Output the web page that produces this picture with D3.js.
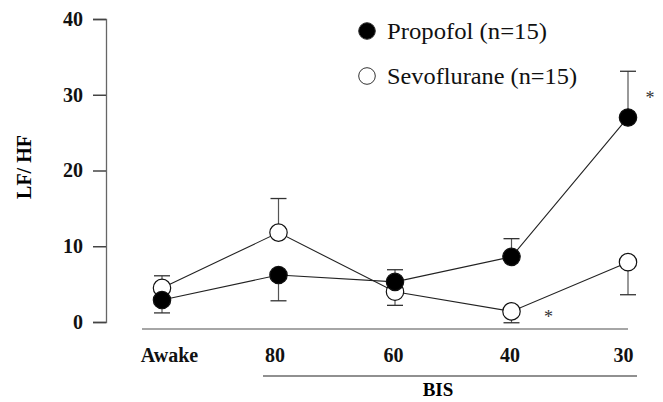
<!DOCTYPE html>
<html>
<head>
<meta charset="utf-8">
<script src="https://cdn.jsdelivr.net/npm/d3@7"></script>
<style>
  body { margin: 0; background: #fff; }
  text { font-family: "Liberation Serif", "Times New Roman", serif; }
</style>
</head>
<body>
<script>
// data
const stages = ["Awake", "80", "60", "40", "30"];
const propofol = [2.9, 6.2, 5.3, 8.6, 27.0];
const propofolErr = [1.7, 3.4, 1.6, 2.4, 6.1];   // drawn one-sided
const propofolDir = [-1, -1, 1, 1, 1];           // -1 = down, 1 = up
const sevo = [4.5, 11.8, 4.0, 1.4, 7.9];
const sevoErr = [1.6, 4.5, 1.8, 1.5, 4.3];
const sevoDir = [1, 1, -1, -1, -1];
const yTicks = [0, 10, 20, 30, 40];
const stars = [{stage: "30", value: 29.8, dx: 22}, {stage: "40", value: 0.9, dx: 37}];

const w = 663, h = 402;
const svg = d3.select("body").append("svg")
  .attr("width", w).attr("height", h);

const x = d3.scalePoint().domain(stages).range([162, 628]);
const y = d3.scaleLinear().domain([0, 40]).range([322, 19]);

// y axis
const yAxis = d3.axisLeft(y).tickValues(yTicks).tickSize(13).tickPadding(10);
const gy = svg.append("g").attr("transform", "translate(106,0)").call(yAxis);
gy.select(".domain").attr("stroke", "#666").attr("stroke-width", 1.3);
gy.selectAll(".tick line").attr("stroke", "#444").attr("stroke-width", 1.5);
gy.selectAll(".tick text").attr("font-family", "Liberation Serif")
  .attr("font-size", 20).attr("font-weight", "bold").attr("fill", "#111");

svg.append("text")
  .attr("transform", "translate(31,167) rotate(-90)")
  .attr("text-anchor", "middle")
  .attr("font-size", 20).attr("font-weight", "bold")
  .text("LF/ HF");

// x axis
const xAxis = d3.axisBottom(x).tickSize(0).tickPadding(19);
const gx = svg.append("g").attr("transform", "translate(0,329)").call(xAxis);
gx.select(".domain").attr("d", "M142,0H628").attr("stroke", "#888").attr("stroke-width", 1.3);
const shift = {"Awake": 7, "80": -4, "60": -2, "40": -2, "30": -5};
gx.selectAll(".tick text").attr("font-family", "Liberation Serif")
  .attr("font-size", 20).attr("font-weight", "bold").attr("fill", "#111")
  .attr("dx", d => shift[d]);

svg.append("line")
  .attr("x1", 263).attr("x2", 637).attr("y1", 376).attr("y2", 376)
  .attr("stroke", "#222").attr("stroke-width", 1.2);
svg.append("text")
  .attr("x", 438).attr("y", 396)
  .attr("text-anchor", "middle")
  .attr("font-size", 19).attr("font-weight", "bold")
  .text("BIS");

const line = d3.line().x((d, i) => x(stages[i])).y(d => y(d));

function drawSeries(vals, errs, dirs, fill) {
  const g = svg.append("g");
  // error bars
  vals.forEach((v, i) => {
    const cx = x(stages[i]);
    const end = y(v + dirs[i] * errs[i]);
    g.append("line").attr("x1", cx).attr("x2", cx)
      .attr("y1", y(v)).attr("y2", end)
      .attr("stroke", "#555").attr("stroke-width", 1.2);
    g.append("line").attr("x1", cx - 8).attr("x2", cx + 8)
      .attr("y1", end).attr("y2", end)
      .attr("stroke", "#333").attr("stroke-width", 1.3);
  });
  g.append("path").datum(vals)
    .attr("d", line).attr("fill", "none")
    .attr("stroke", "#222").attr("stroke-width", 1.1);
  g.selectAll("circle").data(vals).enter().append("circle")
    .attr("cx", (d, i) => x(stages[i]))
    .attr("cy", d => y(d))
    .attr("r", 8.7)
    .attr("fill", fill)
    .attr("stroke", "#111").attr("stroke-width", 1.2);
}

drawSeries(sevo, sevoErr, sevoDir, "#fff");
drawSeries(propofol, propofolErr, propofolDir, "#000");

// significance marks
svg.selectAll(".star").data(stars).enter().append("text")
  .attr("x", d => x(d.stage) + d.dx)
  .attr("y", d => y(d.value) + 8)
  .attr("text-anchor", "middle")
  .attr("font-size", 18).attr("fill", "#333")
  .text("*");

// legend
const legend = [{label: "Propofol (n=15)", fill: "#000", y: 31, len: 160},
                {label: "Sevoflurane (n=15)", fill: "#fff", y: 76, len: 190}];
const lg = svg.selectAll(".lg").data(legend).enter().append("g");
lg.append("circle").attr("cx", 367).attr("cy", d => d.y).attr("r", 8.3)
  .attr("fill", d => d.fill).attr("stroke", "#333").attr("stroke-width", 1);
lg.append("text").attr("x", 387).attr("y", d => d.y + 8)
  .attr("font-size", 23).attr("fill", "#111")
  .attr("textLength", d => d.len).attr("lengthAdjust", "spacingAndGlyphs")
  .text(d => d.label);
</script>
</body>
</html>
